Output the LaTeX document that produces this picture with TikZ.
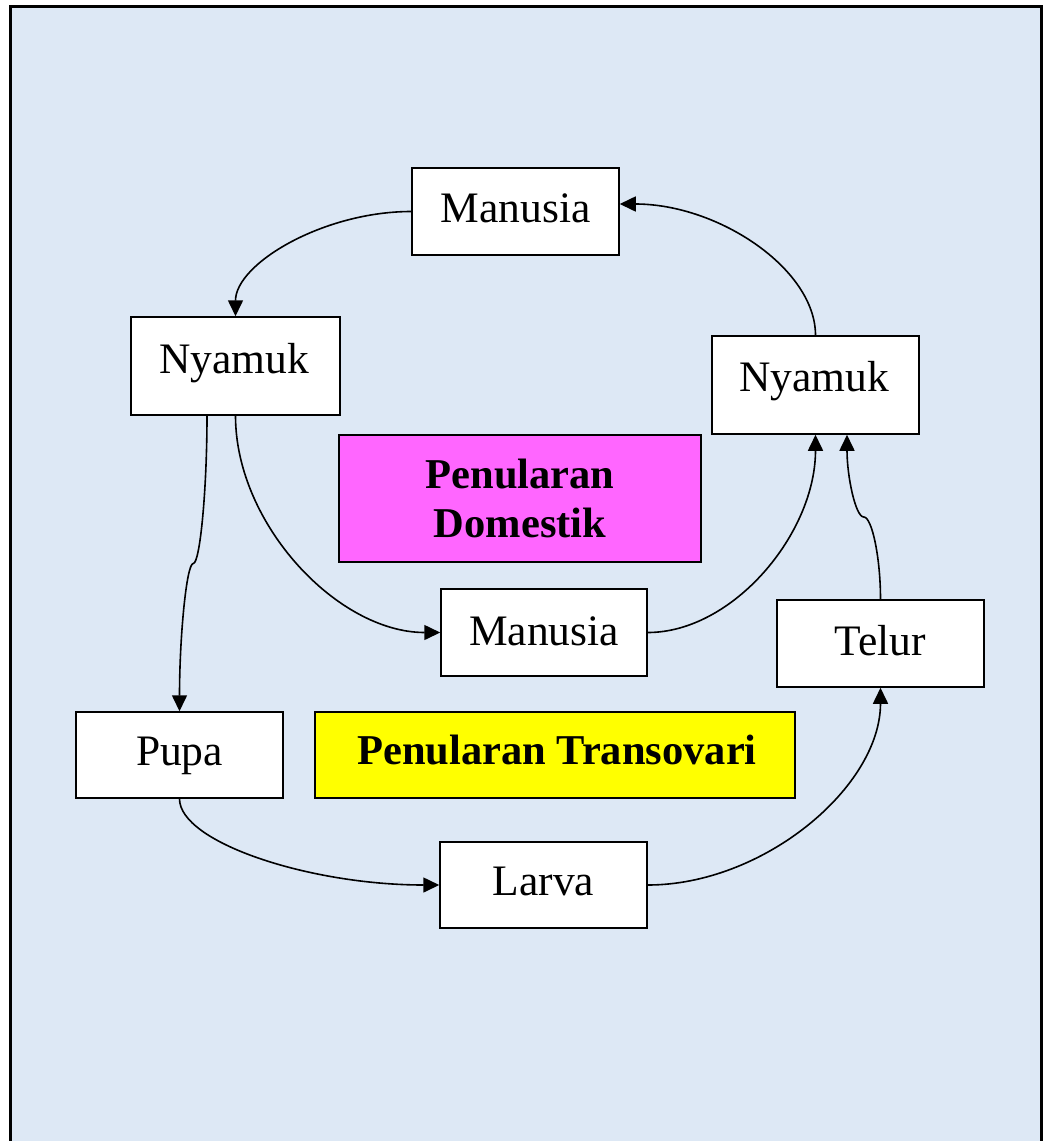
\documentclass[tikz,border=0pt]{standalone}
\usepackage{fontspec}
\setmainfont{Liberation Serif}
\usetikzlibrary{arrows.meta,calc}
\definecolor{bgblue}{RGB}{221,232,245}
\definecolor{domcol}{RGB}{255,102,255}
\definecolor{transcol}{RGB}{255,255,0}
\begin{document}
\begin{tikzpicture}[x=1pt,y=-1pt,
  box/.style={draw=black,fill=white,line width=1.5pt,inner sep=0pt},
  tagbox/.style={draw=black,line width=2.5pt,inner sep=0pt},
  txt/.style={anchor=base,inner sep=0pt,font=\fontsize{43.5}{50}\selectfont},
  btxt/.style={anchor=base,inner sep=0pt,font=\fontsize{42.5}{49}\selectfont\bfseries},
  conn/.style={line width=1.6pt,-{Triangle[length=16pt,width=15pt]}}]
\useasboundingbox (0,0) rectangle (1045,1141);
\clip (0,0) rectangle (1045,1141);
\draw[fill=bgblue,line width=3pt] (10,6) rectangle (1041.5,1160);

% boxes
\node[box,minimum width=207pt,minimum height=87pt] (mt) at (515.5,211.5) {};
\node[box,minimum width=209pt,minimum height=98pt] (nl) at (235.5,366) {};
\node[box,minimum width=207pt,minimum height=98pt] (nr) at (815.5,385) {};
\node[tagbox,fill=domcol,minimum width=362pt,minimum height=127pt] (dom) at (520,498.5) {};
\node[box,minimum width=206pt,minimum height=87pt] (mm) at (544,632.5) {};
\node[box,minimum width=207pt,minimum height=87pt] (tel) at (880.5,643.5) {};
\node[box,minimum width=207pt,minimum height=86pt] (pupa) at (179.5,755) {};
\node[tagbox,fill=transcol,minimum width=480pt,minimum height=86pt] (trans) at (555,755) {};
\node[box,minimum width=207pt,minimum height=86pt] (larva) at (543.5,885) {};

% texts
\node[txt] (tmt) at (515.5,222) {Manusia};
\node[txt] (tnl) at (234,373) {Nyamuk};
\node[txt] (tnr) at (814,391) {Nyamuk};
\node[btxt] (tdom1) at (520,488) {Penularan};
\node[btxt] (tdom2) at (520,537) {Domestik};
\node[txt] (tmm) at (544,645) {Manusia};
\node[txt] (ttel) at (880.5,655) {Telur};
\node[txt] (tpupa) at (179.5,765) {Pupa};
\node[btxt] (ttrans) at (557,764) {Penularan Transovari};
\node[txt] (tlarva) at (543.5,895) {Larva};

% connector end points
\coordinate (mtR) at ([yshift=7.5pt]mt.east);
\coordinate (nlA) at ([xshift=-28.5pt]nl.south);
\coordinate (nrB) at ([xshift=31.5pt]nr.south);
\coordinate (k1) at ($(nlA)!0.5!(pupa.north)$);
\coordinate (k2) at ($(tel.north)!0.5!(nrB)$);

% connectors
\draw[conn] (mt.west) .. controls +(-88,0) and +(0,-52.5) .. (nl.north);
\draw[conn] (nr.north) .. controls +(0,-66) and +(99,0) .. (mtR);
\draw[conn] (nlA) .. controls +(0,74) and +(6.75,0) .. (k1)
               .. controls +(-6.75,0) and +(0,-74) .. (pupa.north);
\draw[conn] (nl.south) .. controls +(0,108.5) and +(-102.5,0) .. (mm.west);
\draw[conn] (mm.east) .. controls +(85,0) and +(0,99) .. (nr.south);
\draw[conn] (tel.north) .. controls +(0,-41.5) and +(8.25,0) .. (k2)
               .. controls +(-8.25,0) and +(0,41.5) .. (nrB);
\draw[conn] (pupa.south) .. controls +(0,43.5) and +(-130,0) .. (larva.west);
\draw[conn] (larva.east) .. controls +(116,0) and +(0,99) .. (tel.south);
\end{tikzpicture}
\end{document}
